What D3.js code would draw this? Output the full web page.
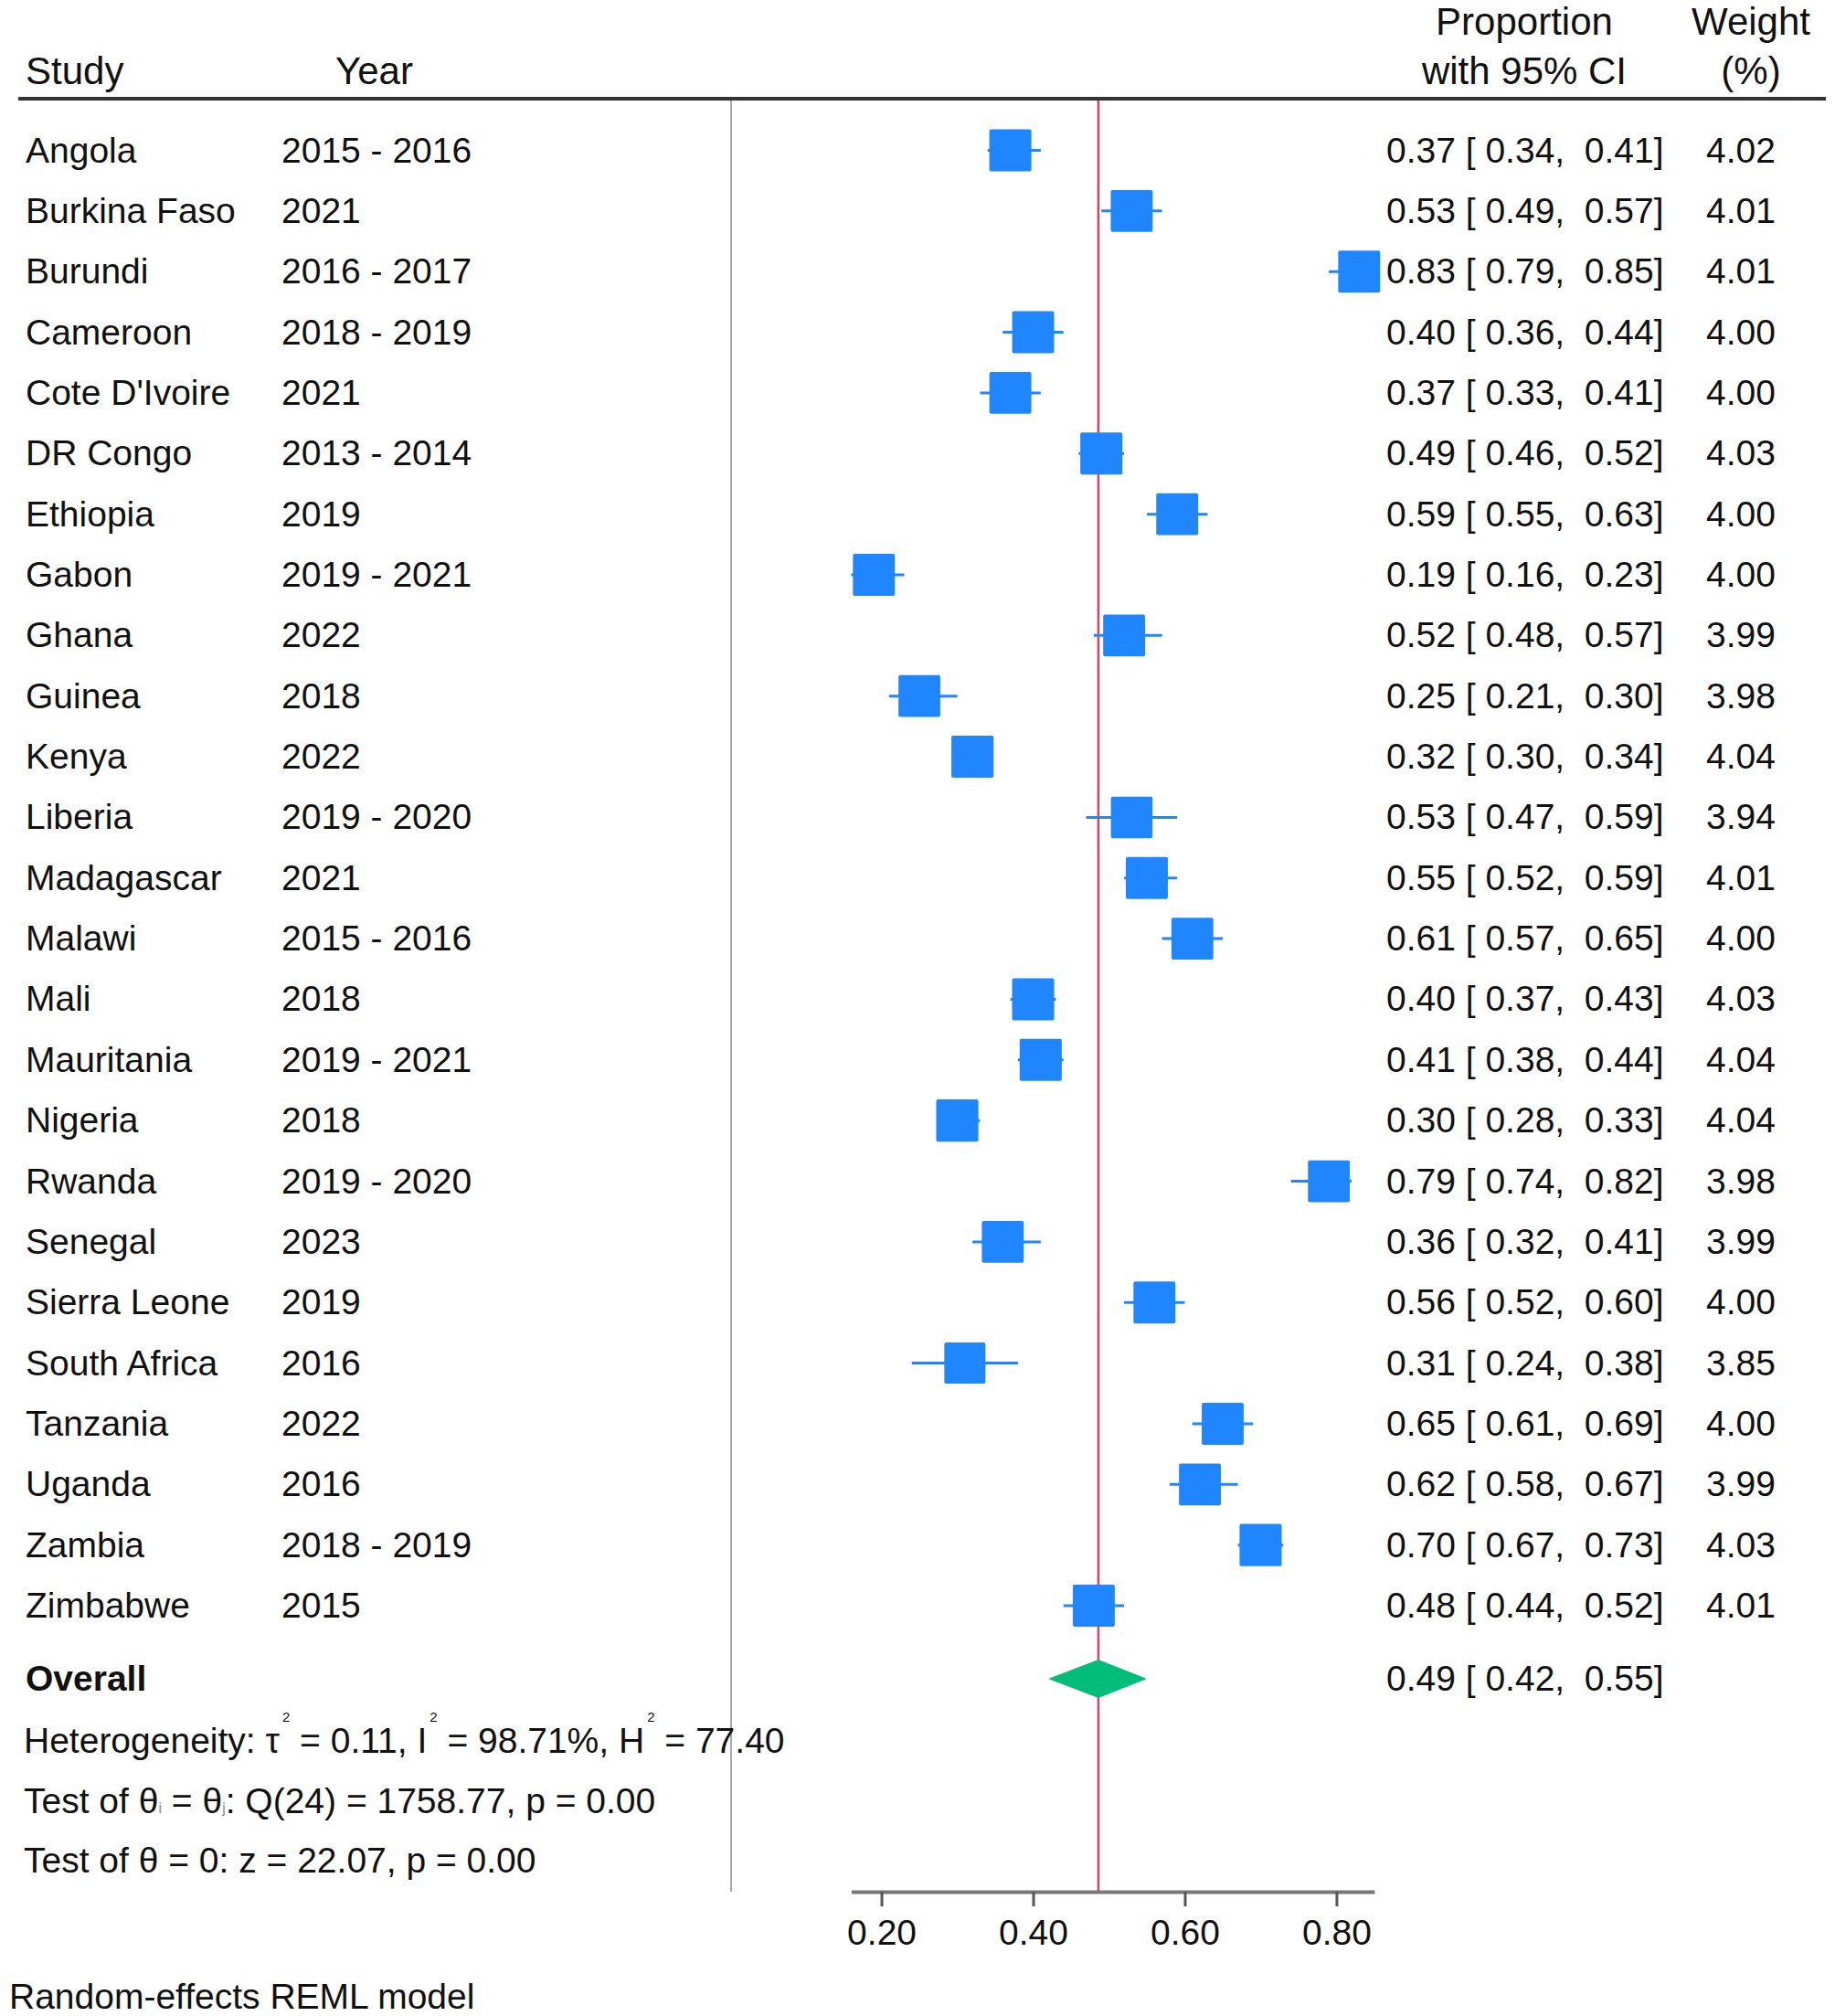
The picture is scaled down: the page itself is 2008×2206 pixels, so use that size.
<!DOCTYPE html>
<html lang="en">
<head>
    <meta charset="UTF-8">
    <title>Forest plot</title>
    <style>
        body { margin: 0; background: #fff; }
        text { font-family: "Liberation Sans", Arial, sans-serif; fill: #111; }
    </style>
</head>
<body>
    <div id="my_dataviz"></div>
    <script src="https://d3js.org/d3.v7.min.js"></script>
    <script>

        // study data
        var studies = ["Angola", "Burkina Faso", "Burundi", "Cameroon", "Cote D'Ivoire", "DR Congo", "Ethiopia",
            "Gabon", "Ghana", "Guinea", "Kenya", "Liberia", "Madagascar", "Malawi", "Mali", "Mauritania",
            "Nigeria", "Rwanda", "Senegal", "Sierra Leone", "South Africa", "Tanzania", "Uganda", "Zambia", "Zimbabwe"];
        var years = ["2015 - 2016", "2021", "2016 - 2017", "2018 - 2019", "2021", "2013 - 2014", "2019",
            "2019 - 2021", "2022", "2018", "2022", "2019 - 2020", "2021", "2015 - 2016", "2018", "2019 - 2021",
            "2018", "2019 - 2020", "2023", "2019", "2016", "2022", "2016", "2018 - 2019", "2015"];
        var estimates = [0.37, 0.53, 0.83, 0.40, 0.37, 0.49, 0.59, 0.19, 0.52, 0.25, 0.32, 0.53, 0.55,
            0.61, 0.40, 0.41, 0.30, 0.79, 0.36, 0.56, 0.31, 0.65, 0.62, 0.70, 0.48];
        var lower = [0.34, 0.49, 0.79, 0.36, 0.33, 0.46, 0.55, 0.16, 0.48, 0.21, 0.30, 0.47, 0.52,
            0.57, 0.37, 0.38, 0.28, 0.74, 0.32, 0.52, 0.24, 0.61, 0.58, 0.67, 0.44];
        var upper = [0.41, 0.57, 0.85, 0.44, 0.41, 0.52, 0.63, 0.23, 0.57, 0.30, 0.34, 0.59, 0.59,
            0.65, 0.43, 0.44, 0.33, 0.82, 0.41, 0.60, 0.38, 0.69, 0.67, 0.73, 0.52];
        var weights = [4.02, 4.01, 4.01, 4.00, 4.00, 4.03, 4.00, 4.00, 3.99, 3.98, 4.04, 3.94, 4.01,
            4.00, 4.03, 4.04, 4.04, 3.98, 3.99, 4.00, 3.85, 4.00, 3.99, 4.03, 4.01];

        // overall estimate and heterogeneity stats
        var overall = [0.486, 0.42, 0.55];
        var tau2 = "0.11", i2 = "98.71", h2 = "77.40";
        var qStat = "1758.77", qDf = 24, qP = "0.00";
        var zStat = "22.07", zP = "0.00";
        var tickValues = [0.2, 0.4, 0.6, 0.8];

        var width = 2008, height = 2206;
        var fs = 39, fsHead = 42;
        var f2 = d3.format(".2f");

        var svg = d3.select("#my_dataviz")
            .append("svg")
            .attr("width", width)
            .attr("height", height)
            .style("background", "#fff");

        // x scale: axis spans the range of the CIs
        var x = d3.scaleLinear()
            .domain([d3.min(lower), d3.max(upper)])
            .range([798.6 + 829.8 * d3.min(lower), 798.6 + 829.8 * d3.max(upper)]);

        // row positions
        var y = d3.scaleLinear().domain([0, studies.length - 1]).range([164.5, 1757]);
        var yOverall = 1837;
        var plotTop = 110, plotBottom = 2070;

        var rows = studies.map(function (s, i) {
            return { study: s, year: years[i], est: estimates[i], lo: lower[i], hi: upper[i], w: weights[i], i: i };
        });

        // header
        var header = svg.append("g").style("font-size", fsHead + "px");
        header.append("text").attr("x", 28).attr("y", 92).text("Study");
        header.append("text").attr("x", 367).attr("y", 92).text("Year");
        header.append("text").attr("x", 1668).attr("y", 38).attr("text-anchor", "middle").text("Proportion");
        header.append("text").attr("x", 1668).attr("y", 92).attr("text-anchor", "middle").text("with 95% CI");
        header.append("text").attr("x", 1916).attr("y", 38).attr("text-anchor", "middle").text("Weight");
        header.append("text").attr("x", 1916).attr("y", 92).attr("text-anchor", "middle").text("(%)");
        svg.append("line")
            .attr("x1", 20).attr("x2", 1998).attr("y1", 108).attr("y2", 108)
            .attr("stroke", "#333").attr("stroke-width", 4);

        // grey separator and red overall line
        svg.append("line")
            .attr("x1", 800).attr("x2", 800).attr("y1", plotTop).attr("y2", plotBottom)
            .attr("stroke", "#aaa").attr("stroke-width", 2);
        svg.append("line")
            .attr("x1", x(overall[0])).attr("x2", x(overall[0])).attr("y1", plotTop).attr("y2", plotBottom)
            .attr("stroke", "#d2466a").attr("stroke-width", 2.5);

        // study rows
        var row = svg.append("g").selectAll("g")
            .data(rows)
            .enter()
            .append("g")
            .attr("transform", function (d) { return "translate(0," + y(d.i) + ")"; })
            .style("font-size", fs + "px");

        row.append("text").attr("x", 28).attr("dy", 13).text(function (d) { return d.study; });
        row.append("text").attr("x", 308).attr("dy", 13).text(function (d) { return d.year; });
        row.append("text").attr("x", 1517).attr("dy", 13).style("white-space", "pre")
            .text(function (d) { return f2(d.est) + " [ " + f2(d.lo) + ",  " + f2(d.hi) + "]"; });
        row.append("text").attr("x", 1867).attr("dy", 13).text(function (d) { return f2(d.w); });

        row.append("line")
            .attr("x1", function (d) { return x(d.lo); })
            .attr("x2", function (d) { return x(d.hi); })
            .attr("stroke", "#1f86ff").attr("stroke-width", 3);

        var side = function (d) { return 46 * Math.sqrt(d.w / 4.02); };
        row.append("rect")
            .attr("x", function (d) { return x(d.est) - side(d) / 2; })
            .attr("y", function (d) { return -side(d) / 2; })
            .attr("width", side).attr("height", side)
            .attr("rx", 2)
            .attr("fill", "#1f86ff");

        // overall row
        var ov = svg.append("g").attr("transform", "translate(0," + yOverall + ")").style("font-size", fs + "px");
        ov.append("text").attr("x", 28).attr("dy", 13).style("font-weight", "bold").text("Overall");
        ov.append("text").attr("x", 1517).attr("dy", 13).style("white-space", "pre")
            .text(f2(overall[0]) + " [ " + f2(overall[1]) + ",  " + f2(overall[2]) + "]");
        ov.append("path")
            .attr("d", "M" + x(overall[1]) + ",0L" + x(overall[0]) + ",-21L" + x(overall[2]) + ",0L" + x(overall[0]) + ",21Z")
            .attr("fill", "#00be7a");

        // heterogeneity and test lines (superscript 2 sits high and small)
        var het = svg.append("text").attr("x", 26).attr("y", 1918).style("font-size", fs + "px").style("white-space", "pre");
        var parts = [["Heterogeneity: τ", true], [" = " + tau2 + ", I", true], [" = " + i2 + "%, H", true], [" = " + h2, false]];
        parts.forEach(function (p, k) {
            het.append("tspan").attr("dy", k === 0 ? 0 : 34).text(p[0]);
            if (p[1]) het.append("tspan").attr("dx", 3).attr("dy", -34).style("font-size", "15px").text("2");
        });

        var q = svg.append("text").attr("x", 26).attr("y", 1984).style("font-size", fs + "px");
        q.append("tspan").text("Test of θ");
        q.append("tspan").style("font-size", "16px").style("fill", "#888").text("i");
        q.append("tspan").text(" = θ");
        q.append("tspan").style("font-size", "16px").style("fill", "#888").text("j");
        q.append("tspan").text(": Q(" + qDf + ") = " + qStat + ", p = " + qP);

        svg.append("text").attr("x", 26).attr("y", 2049).style("font-size", fs + "px")
            .text("Test of θ = 0: z = " + zStat + ", p = " + zP);

        // x axis (tickSize first, since it also resets the outer size)
        var axis = svg.append("g")
            .attr("transform", "translate(0," + plotBottom + ")")
            .call(d3.axisBottom(x).tickValues(tickValues).tickFormat(f2).tickSize(16).tickSizeOuter(0).tickPadding(14));
        axis.select(".domain").attr("stroke", "#777").attr("stroke-width", 4);
        axis.selectAll(".tick line").attr("stroke", "#555").attr("stroke-width", 3);
        axis.selectAll(".tick text").style("font-size", fs + "px").style("font-family", "'Liberation Sans', Arial, sans-serif").attr("fill", "#111");

        svg.append("text").attr("x", 10).attr("y", 2198).style("font-size", fs + "px").text("Random-effects REML model");

    </script>
</body>
</html>
